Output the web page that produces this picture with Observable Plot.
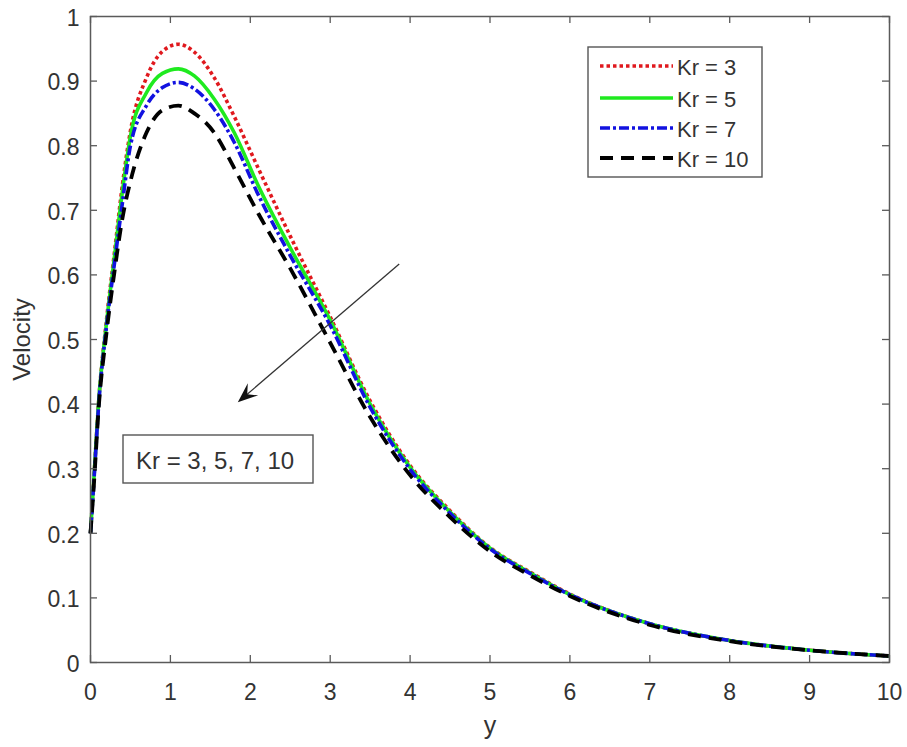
<!DOCTYPE html>
<html>
<head>
<meta charset="utf-8">
<script src="https://cdn.jsdelivr.net/npm/d3@7"></script>
<script src="https://cdn.jsdelivr.net/npm/@observablehq/plot@0.6"></script>
<style>
  html, body { margin: 0; padding: 0; background: #fff; }
  #chart svg { display: block; }
</style>
</head>
<body>
<div id="chart"></div>
<script>
// ---- data ----
const xs    = [0, 0.05, 0.1, 0.2, 0.3, 0.4, 0.5, 0.7, 0.9, 1.1, 1.3, 1.55, 1.8, 2.1, 2.5, 3, 3.5, 4, 4.5, 5, 5.5, 6, 7, 8, 9, 10];
const kr3   = [0.20, 0.30, 0.40, 0.53, 0.635, 0.74, 0.823, 0.905, 0.946, 0.957, 0.945, 0.905, 0.845, 0.765, 0.66, 0.535, 0.405, 0.305, 0.235, 0.178, 0.14, 0.106, 0.06, 0.034, 0.019, 0.01];
const kr5   = [0.20, 0.30, 0.40, 0.525, 0.628, 0.73, 0.815, 0.882, 0.912, 0.919, 0.908, 0.872, 0.82, 0.738, 0.642, 0.53, 0.40, 0.302, 0.233, 0.177, 0.139, 0.105, 0.06, 0.034, 0.019, 0.01];
const kr7   = [0.20, 0.295, 0.395, 0.52, 0.618, 0.712, 0.80, 0.862, 0.89, 0.898, 0.888, 0.856, 0.805, 0.724, 0.63, 0.522, 0.395, 0.299, 0.231, 0.176, 0.138, 0.105, 0.06, 0.034, 0.019, 0.01];
const kr10  = [0.20, 0.29, 0.39, 0.51, 0.605, 0.688, 0.745, 0.82, 0.855, 0.862, 0.85, 0.82, 0.765, 0.695, 0.61, 0.495, 0.38, 0.29, 0.225, 0.172, 0.135, 0.103, 0.058, 0.033, 0.019, 0.01];
const seriesNames = ["Kr = 3", "Kr = 5", "Kr = 7", "Kr = 10"];
const xTicks = [0, 1, 2, 3, 4, 5, 6, 7, 8, 9, 10];
const yTicks = [0, 0.1, 0.2, 0.3, 0.4, 0.5, 0.6, 0.7, 0.8, 0.9, 1];
const annotationText = "Kr = 3, 5, 7, 10";
const arrowFrom = {x: 3.87, y: 0.616};
const arrowTo   = {x: 1.85, y: 0.402};

// ---- styles ----
const styles = [
  {stroke: "#e0191e", dash: "3.5,3", width: 3.6},
  {stroke: "#1fea1f", dash: null,    width: 3.6},
  {stroke: "#1212e0", dash: "10,3,3,3", width: 3.6},
  {stroke: "#000000", dash: "13,8",  width: 3.8}
];
const values = [kr3, kr5, kr7, kr10];
const rows = values.map((vals, i) => xs.map((x, j) => ({series: seriesNames[i], x, v: vals[j]})));

const W = 907, H = 747, mL = 90, mR = 18, mT = 16, mB = 85;
const fw = W - mL - mR, fh = H - mT - mB;
const font = "'Liberation Sans', Arial, Helvetica, sans-serif";
const textColor = "#333";
const axisColor = "#5a5a5a";

const chart = Plot.plot({
  width: W, height: H,
  marginLeft: mL, marginRight: mR, marginTop: mT, marginBottom: mB,
  style: {fontFamily: font, background: "#fff", overflow: "visible"},
  x: {domain: [0, 10], axis: null},
  y: {domain: [0, 1], axis: null},
  marks: [
    // data lines
    ...rows.map((data, i) => Plot.line(data, {
      x: "x", y: "v", curve: "monotone-x",
      stroke: styles[i].stroke, strokeWidth: styles[i].width,
      strokeDasharray: styles[i].dash, strokeLinecap: "butt"
    })),
    // frame
    Plot.frame({stroke: axisColor, strokeWidth: 1.5}),
    // inward ticks on all four sides
    Plot.tickX(xTicks, {x: d => d, insetTop: fh - 7, stroke: axisColor, strokeWidth: 1.3}),
    Plot.tickX(xTicks, {x: d => d, insetBottom: fh - 7, stroke: axisColor, strokeWidth: 1.3}),
    Plot.tickY(yTicks, {y: d => d, insetRight: fw - 7, stroke: axisColor, strokeWidth: 1.3}),
    Plot.tickY(yTicks, {y: d => d, insetLeft: fw - 7, stroke: axisColor, strokeWidth: 1.3}),
    // tick labels
    Plot.text(xTicks, {x: d => d, text: d => String(d), frameAnchor: "bottom", textAnchor: "middle", lineAnchor: "middle", dy: 30, fontSize: 23, fill: textColor}),
    Plot.text(yTicks, {y: d => d, text: d => String(d), frameAnchor: "left", textAnchor: "end", lineAnchor: "middle", dx: -11, dy: 2, fontSize: 23, fill: textColor}),
    // axis titles
    Plot.text(["Velocity"], {frameAnchor: "left", textAnchor: "middle", lineAnchor: "middle", dx: -68, rotate: -90, fontSize: 24, fill: textColor}),
    Plot.text(["y"], {frameAnchor: "bottom", textAnchor: "middle", lineAnchor: "middle", dy: 63, fontSize: 25, fill: textColor})
  ]
});

document.getElementById("chart").appendChild(chart);

// ---- annotation: arrow, text box and legend ----
const sx = chart.scale("x"), sy = chart.scale("y");
const svg = d3.select(chart);
const g = svg.append("g").attr("font-family", font).attr("text-anchor", "start");

// arrow
const x1 = sx.apply(arrowFrom.x), y1 = sy.apply(arrowFrom.y);
const x2 = sx.apply(arrowTo.x), y2 = sy.apply(arrowTo.y);
const len = Math.hypot(x2 - x1, y2 - y1);
const ux = (x2 - x1) / len, uy = (y2 - y1) / len;
const nx = -uy, ny = ux;
const L = 20, Wd = 8;
g.append("line")
  .attr("x1", x1).attr("y1", y1)
  .attr("x2", x2 - ux * L * 0.6).attr("y2", y2 - uy * L * 0.6)
  .attr("stroke", "#333").attr("stroke-width", 1.3);
g.append("path")
  .attr("d", `M${x2},${y2} L${x2 - ux*L + nx*Wd},${y2 - uy*L + ny*Wd} L${x2 - ux*L*0.62},${y2 - uy*L*0.62} L${x2 - ux*L - nx*Wd},${y2 - uy*L - ny*Wd} Z`)
  .attr("fill", "#111");

// text box
const box = {left: 123, top: 435, width: 190, height: 48};
g.append("rect")
  .attr("x", box.left).attr("y", box.top).attr("width", box.width).attr("height", box.height)
  .attr("fill", "#fff").attr("stroke", "#555").attr("stroke-width", 1.4);
g.append("text")
  .attr("x", box.left + 13).attr("y", box.top + box.height / 2 + 1)
  .attr("dominant-baseline", "central")
  .attr("font-size", 24).attr("fill", textColor)
  .text(annotationText);

// legend
const leg = {left: 588, top: 47, width: 174, height: 130};
g.append("rect")
  .attr("x", leg.left).attr("y", leg.top).attr("width", leg.width).attr("height", leg.height)
  .attr("fill", "#fff").attr("stroke", "#555").attr("stroke-width", 1.4);
const rowY = [66, 98, 128, 158];
seriesNames.forEach((name, i) => {
  g.append("line")
    .attr("x1", 600).attr("x2", 673).attr("y1", rowY[i]).attr("y2", rowY[i])
    .attr("stroke", styles[i].stroke).attr("stroke-width", styles[i].width)
    .attr("stroke-dasharray", styles[i].dash);
  g.append("text")
    .attr("x", 677).attr("y", rowY[i] + 1)
    .attr("dominant-baseline", "central")
    .attr("font-size", 22).attr("fill", textColor)
    .text(name);
});
</script>
</body>
</html>
